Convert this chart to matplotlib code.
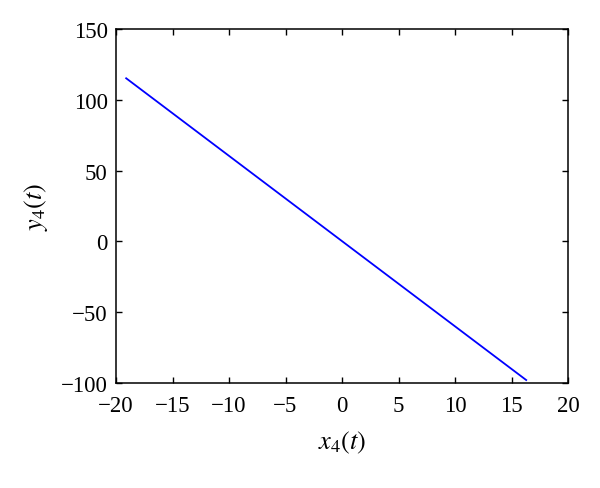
import matplotlib
matplotlib.use("Agg")
import matplotlib.pyplot as plt

x4 = [-19.1, 0.0, 16.3]
y4 = [115.2, 0.2, -97.9]
xticks = [-20, -15, -10, -5, 0, 5, 10, 15, 20]
yticks = [-100, -50, 0, 50, 100, 150]

plt.rcParams['font.family'] = ['Liberation Serif', 'DejaVu Serif']
plt.rcParams['mathtext.fontset'] = 'stix'

fig = plt.figure(figsize=(6.0, 4.89), dpi=100)
ax = fig.add_axes([116/600, 1-384/489, 452/600, 354/489])
ax.plot(x4, y4, color='#0000ff', lw=1.3)
ax.set_xlim(-20, 20)
ax.set_ylim(-100, 150)
ax.set_xticks(xticks)
ax.set_yticks(yticks)
ax.tick_params(direction='in', top=True, right=True, labelsize=16.5, length=4, width=1)
ax.tick_params(axis='x', pad=9)
ax.tick_params(axis='y', pad=6)
for s in ax.spines.values():
    s.set_linewidth(1.1)
ax.set_xlabel(r'$x_4(t)$', fontsize=19, labelpad=9)
ax.set_ylabel(r'$y_4(t)$', fontsize=19, labelpad=8)
fig.savefig('out.png', dpi=100)
